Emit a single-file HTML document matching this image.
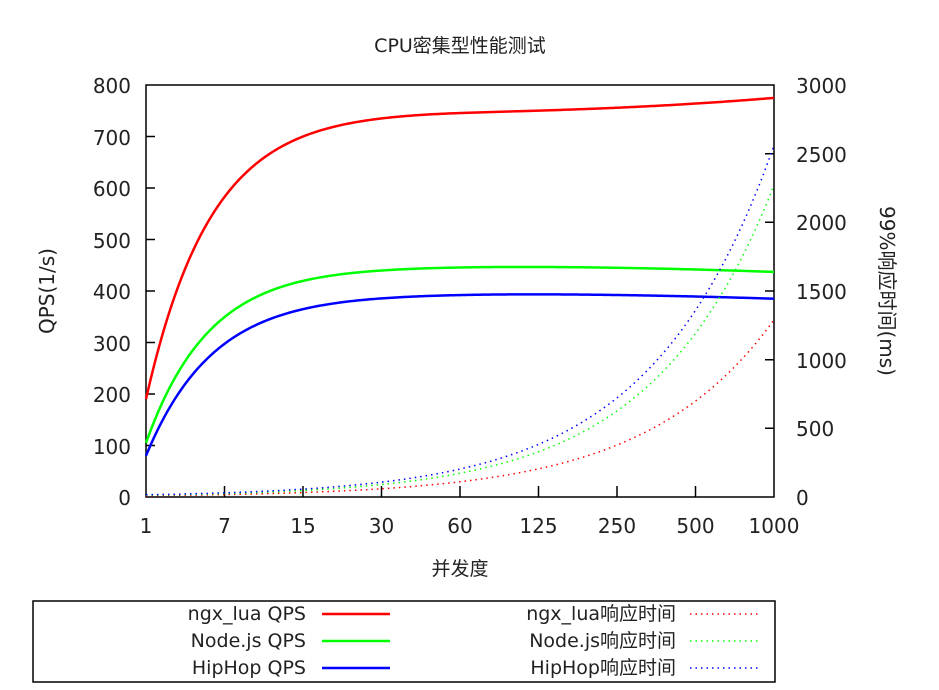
<!DOCTYPE html>
<html><head><meta charset="utf-8"><style>
html,body{margin:0;padding:0;background:#fff;width:939px;height:690px;overflow:hidden}
svg text{font-family:"DejaVu Sans","Liberation Sans","Noto Sans CJK SC",sans-serif;fill:#222}
</style></head><body>
<svg id="s" width="939" height="690" viewBox="0 0 939 690" xmlns="http://www.w3.org/2000/svg">
<text x="460" y="52" font-size="19" text-anchor="middle">CPU密集型性能测试</text>
<g font-size="20" text-anchor="end">
<text x="131" y="505">0</text><text x="131" y="454">100</text><text x="131" y="402">200</text>
<text x="131" y="351">300</text><text x="131" y="299">400</text><text x="131" y="248">500</text>
<text x="131" y="196">600</text><text x="131" y="145">700</text><text x="131" y="93">800</text>
</g>
<g font-size="20" text-anchor="start">
<text x="796" y="505">0</text><text x="796" y="436">500</text><text x="796" y="368">1000</text>
<text x="796" y="299">1500</text><text x="796" y="230">2000</text><text x="796" y="162">2500</text>
<text x="796" y="93">3000</text>
</g>
<g font-size="20" text-anchor="middle">
<text x="146" y="533">1</text><text x="224.5" y="533">7</text><text x="303" y="533">15</text>
<text x="381.5" y="533">30</text><text x="460" y="533">60</text><text x="538.5" y="533">125</text>
<text x="617" y="533">250</text><text x="695.5" y="533">500</text><text x="774" y="533">1000</text>
</g>
<text x="460" y="575" font-size="19" text-anchor="middle">并发度</text>
<text transform="translate(54,291) rotate(-90)" font-size="20" text-anchor="middle">QPS(1/s)</text>
<text transform="translate(880,291) rotate(90)" font-size="20" text-anchor="middle">99%响应时间(ms)</text>
<g stroke="#000" stroke-width="1.5" fill="none">
<rect x="146" y="85" width="628" height="412"/>
<path d="M146 445.5h9M146 394h9M146 342.5h9M146 291h9M146 239.5h9M146 188h9M146 136.5h9
M774 428.3h-9M774 359.7h-9M774 291h-9M774 222.3h-9M774 153.7h-9
M224.5 497v-11M303 497v-11M381.5 497v-11M460 497v-11M538.5 497v-11M617 497v-11M695.5 497v-11"/>
<rect x="33" y="601" width="742" height="81"/>
</g>
<g id="curves" fill="none"></g>
<g font-size="19" text-anchor="end">
<text x="306" y="620">ngx_lua QPS</text><text x="306" y="647">Node.js QPS</text><text x="306" y="674">HipHop QPS</text>
<text x="676" y="620">ngx_lua响应时间</text><text x="676" y="647">Node.js响应时间</text><text x="676" y="674">HipHop响应时间</text>
</g>
<g stroke-width="2.5"><path d="M322 614h68" stroke="#f00"/><path d="M322 641h68" stroke="#0f0"/><path d="M322 668h68" stroke="#00f"/></g>
<g stroke-width="1.5" stroke-dasharray="1.5 4"><path d="M690 614h68" stroke="#f00"/><path d="M690 641h68" stroke="#0f0"/><path d="M690 668h68" stroke="#00f"/></g>
</svg>
<script>
function yl(v){return 497-v*0.515}function yr(v){return 497-v*0.13733}
function tail(t){return t>314?Math.pow((t-314)/314,2):0}
var S=[
["#f00",function(t){return yl(750-560*Math.exp(-t/65)+25*tail(t))},0],
["#0f0",function(t){return yl(448-343*Math.exp(-t/63)-11*tail(t))},0],
["#00f",function(t){return yl(395-315*Math.exp(-t/67)-10*tail(t))},0],
["#f00",function(t){return yr(1290*Math.exp((t-628)/128))},1],
["#0f0",function(t){return yr(2270*Math.exp((t-628)/122))},1],
["#00f",function(t){return yr(2560*Math.exp((t-628)/124))},1]];
var g=document.getElementById("curves");
S.forEach(function(s){var d="";for(var t=0;t<=628;t+=2){d+=(t?" L":"M")+(146+t)+" "+s[1](t).toFixed(2);}
var e=document.createElementNS("http://www.w3.org/2000/svg","path");
e.setAttribute("d",d);e.setAttribute("stroke",s[0]);
if(s[2]){e.setAttribute("stroke-width","1.5");e.setAttribute("stroke-dasharray","1.5 4");}else e.setAttribute("stroke-width","2.5");
g.appendChild(e);});
</script>
</body></html>
